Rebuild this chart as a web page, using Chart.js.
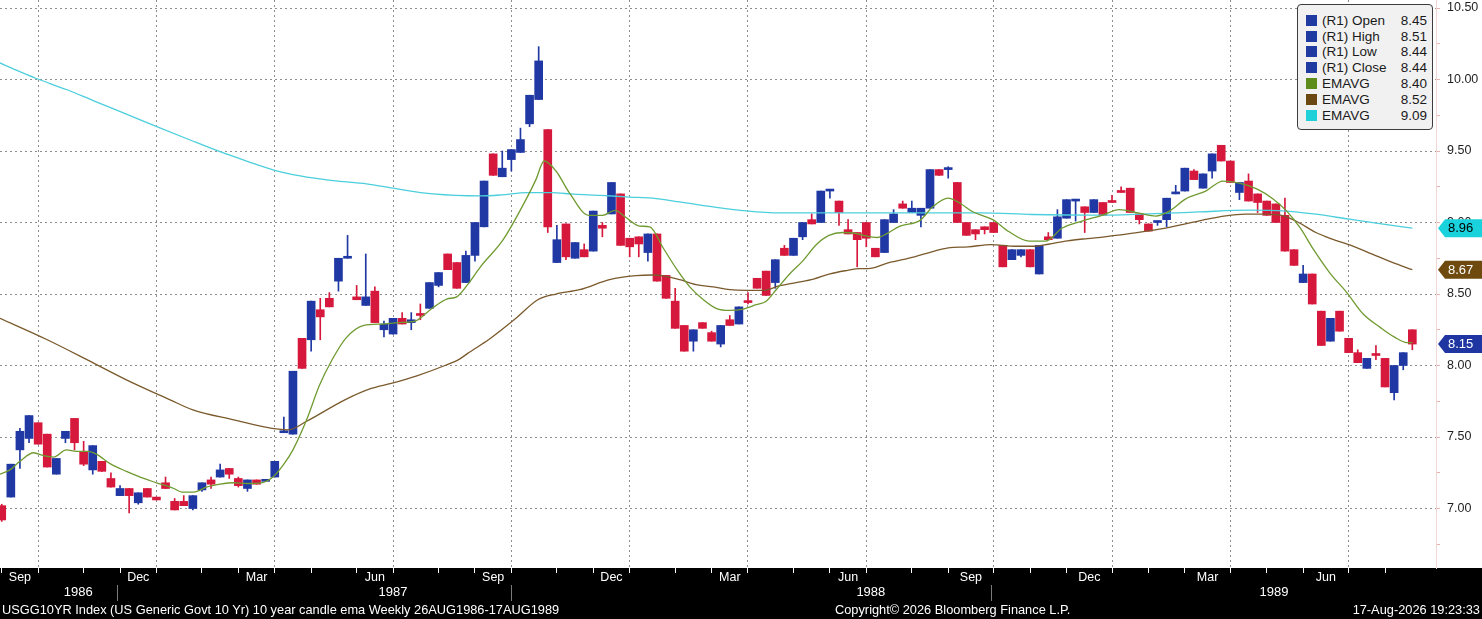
<!DOCTYPE html>
<html>
<head>
<meta charset="utf-8">
<title>USGG10YR weekly candles</title>
<script src="https://cdn.jsdelivr.net/npm/chart.js@4.4.1/dist/chart.umd.min.js"></script>
<style>
html, body { margin: 0; padding: 0; background: #fff; }
#wrap { position: relative; width: 1482px; height: 619px; overflow: hidden; font-family: "Liberation Sans", Arial, sans-serif; }
#chart { position: absolute; left: 0; top: 0; }
#legend { position: absolute; left: 1297px; top: 4px; width: 136px; height: 126px; box-sizing: border-box;
          border: 1px solid #3c3c3c; border-radius: 4px; background: #f1f1f1; font-size: 13.5px; color: #1a1a1a; }
.row { position: absolute; left: 8px; right: 5px; height: 16px; line-height: 16px; white-space: nowrap; }
.sw { position: absolute; left: 0; top: 2px; width: 11px; height: 11px; }
.lb { position: absolute; left: 16px; }
.vl { position: absolute; right: 0; }
.foot { position: absolute; top: 601px; height: 18px; line-height: 18px; font-size: 12.8px; color: #fff; white-space: nowrap; }
</style>
</head>
<body>
<div id="wrap">
  <canvas id="chart" width="1482" height="619"></canvas>
  <div id="legend"></div>
  <div class="foot" style="left:2px">USGG10YR Index (US Generic Govt 10 Yr) 10 year candle ema Weekly 26AUG1986-17AUG1989</div>
  <div class="foot" style="left:835px">Copyright© 2026 Bloomberg Finance L.P.</div>
  <div class="foot" style="right:2px">17-Aug-2026 19:23:33</div>
</div>
<script>
// weekly bars, first bar = week ending 29 Aug 1986
const firstWeek = Date.UTC(1986, 7, 29);

const opens = [7.02,7.08,7.41,7.49,7.60,7.52,7.24,7.49,7.63,7.40,7.27,7.33,7.21,7.09,7.14,7.04,7.14,7.08,7.18,7.05,
  7.05,7.00,7.13,7.20,7.22,7.28,7.21,7.14,7.20,7.19,7.22,7.53,7.52,8.19,8.18,8.39,8.47,8.59,8.75,8.48,
  8.42,8.52,8.25,8.22,8.33,8.30,8.36,8.40,8.56,8.78,8.72,8.58,8.77,8.97,9.48,9.32,9.44,9.49,9.69,9.86,
  9.65,8.72,8.99,8.75,8.81,8.80,8.98,9.06,9.20,8.89,8.90,8.79,8.92,8.63,8.45,8.28,8.17,8.30,8.23,8.15,
  8.32,8.29,8.45,8.61,8.66,8.58,8.82,8.77,8.90,9.02,9.00,9.22,9.15,8.95,8.93,9.00,8.82,8.79,9.00,9.13,
  9.07,9.05,9.10,9.37,9.37,9.28,9.00,8.95,8.97,9.00,8.84,8.74,8.77,8.81,8.64,8.90,8.89,9.03,9.15,9.11,
  9.07,9.14,9.15,9.22,9.24,9.06,8.99,9.00,9.02,9.20,9.22,9.36,9.24,9.36,9.54,9.43,9.21,9.29,9.20,9.15,
  9.13,9.05,8.81,8.58,8.64,8.38,8.17,8.38,8.19,8.09,7.98,8.08,8.05,7.81,8.00,8.25];
const highs = [7.03,7.31,7.56,7.65,7.60,7.52,7.35,7.54,7.63,7.47,7.44,7.33,7.25,7.16,7.14,7.11,7.14,7.08,7.22,7.07,
  7.09,7.09,7.18,7.22,7.31,7.28,7.22,7.20,7.20,7.20,7.33,7.64,7.96,8.19,8.45,8.47,8.51,8.75,8.91,8.56,
  8.78,8.55,8.31,8.33,8.37,8.37,8.43,8.58,8.65,8.78,8.72,8.80,9.00,9.29,9.48,9.50,9.51,9.66,9.89,10.23,
  9.65,8.98,8.99,8.86,8.85,9.08,9.00,9.28,9.20,8.89,8.90,8.92,8.92,8.63,8.54,8.28,8.25,8.30,8.24,8.28,
  8.35,8.41,8.51,8.61,8.66,8.74,8.84,8.89,9.00,9.06,9.22,9.23,9.15,9.02,8.93,9.00,8.82,9.02,9.09,9.15,
  9.15,9.10,9.37,9.37,9.39,9.28,9.00,8.95,8.97,9.00,8.84,8.81,8.81,8.81,8.84,8.93,9.09,9.16,9.16,9.11,
  9.16,9.14,9.19,9.25,9.24,9.06,8.99,9.01,9.17,9.26,9.38,9.37,9.34,9.48,9.54,9.43,9.28,9.34,9.20,9.15,
  9.13,9.17,8.81,8.70,8.64,8.38,8.33,8.38,8.19,8.11,8.05,8.14,8.05,8.00,8.09,8.25];
const lows = [6.91,7.08,7.28,7.46,7.45,7.29,7.24,7.46,7.41,7.30,7.24,7.26,7.15,7.09,6.97,7.03,7.08,7.06,7.14,6.99,
  7.02,6.99,7.12,7.14,7.22,7.21,7.15,7.12,7.17,7.19,7.22,7.53,7.52,7.98,8.10,8.18,8.41,8.52,8.75,8.46,
  8.42,8.30,8.20,8.22,8.29,8.25,8.32,8.40,8.55,8.67,8.54,8.58,8.73,8.97,9.33,9.32,9.36,9.49,9.67,9.86,
  8.93,8.72,8.74,8.75,8.76,8.80,8.90,9.06,8.84,8.76,8.76,8.73,8.59,8.47,8.26,8.10,8.10,8.26,8.17,8.13,
  8.28,8.29,8.43,8.54,8.49,8.54,8.77,8.77,8.88,8.99,9.00,9.17,8.98,8.92,8.69,8.83,8.76,8.79,9.00,9.10,
  9.07,8.97,9.10,9.33,9.31,9.00,8.91,8.88,8.92,8.93,8.69,8.74,8.76,8.69,8.64,8.88,8.89,9.03,9.01,8.93,
  9.07,9.05,9.14,9.21,9.07,8.99,8.94,8.98,8.97,9.20,9.22,9.30,9.24,9.31,9.43,9.28,9.16,9.15,9.07,9.05,
  9.00,8.80,8.70,8.58,8.43,8.14,8.17,8.24,8.09,8.02,7.98,8.04,7.85,7.76,7.97,8.11];
const closes = [6.92,7.31,7.54,7.65,7.45,7.29,7.35,7.54,7.46,7.31,7.44,7.26,7.15,7.14,7.09,7.11,7.08,7.06,7.14,6.99,
  7.02,7.09,7.18,7.17,7.27,7.24,7.16,7.20,7.17,7.20,7.33,7.54,7.96,7.98,8.45,8.34,8.41,8.75,8.76,8.46,
  8.48,8.30,8.29,8.33,8.29,8.32,8.35,8.58,8.65,8.67,8.54,8.77,9.00,9.29,9.33,9.38,9.51,9.58,9.89,10.13,
  8.97,8.88,8.76,8.86,8.76,9.08,8.96,9.28,8.84,8.83,8.85,8.92,8.59,8.47,8.26,8.10,8.25,8.26,8.17,8.28,
  8.28,8.41,8.44,8.54,8.49,8.74,8.77,8.89,9.00,8.99,9.22,9.23,9.07,8.92,8.88,8.89,8.76,9.02,9.06,9.10,
  9.10,9.10,9.37,9.33,9.38,9.00,8.91,8.92,8.95,8.93,8.69,8.81,8.81,8.69,8.84,8.88,9.04,9.16,9.16,9.07,
  9.16,9.05,9.14,9.21,9.07,9.02,8.94,9.01,9.17,9.21,9.38,9.30,9.34,9.48,9.43,9.28,9.28,9.15,9.14,9.05,
  9.00,8.80,8.70,8.64,8.43,8.14,8.33,8.24,8.09,8.02,8.05,8.07,7.85,8.00,8.09,8.15];

// moving averages: [bar position, yield]
const emaFast = [[-0.2,7.24],[0.9,7.27],[2.0,7.33],[3.5,7.39],[4.6,7.37],[5.7,7.36],[7.1,7.41],[8.2,7.40],[9.5,7.40],
  [10.4,7.38],[12.0,7.31],[13.7,7.26],[15.6,7.21],[17.0,7.18],[18.9,7.14],[19.8,7.115],[21.1,7.115],[22.5,7.15],
  [24.0,7.17],[25.5,7.18],[26.9,7.175],[28.5,7.18],[29.8,7.22],[31.0,7.31],[32.0,7.41],[33.5,7.62],[34.9,7.86],
  [36.3,8.04],[37.8,8.19],[39.8,8.28],[41.8,8.29],[43.6,8.30],[45.4,8.31],[47.3,8.40],[48.9,8.465],[50.0,8.48],
  [51.3,8.575],[52.6,8.69],[55.1,8.88],[57.6,9.16],[58.7,9.30],[59.6,9.43],[60.9,9.36],[62.4,9.205],[64.5,9.05],
  [66.0,9.05],[67.4,9.085],[68.5,9.04],[70.1,8.975],[71.2,8.97],[72.7,8.82],[74.2,8.67],[75.6,8.55],[77.1,8.46],
  [78.5,8.40],[80.0,8.385],[81.5,8.395],[82.9,8.425],[84.0,8.45],[85.1,8.53],[86.5,8.635],[88.0,8.73],[89.5,8.845],
  [90.9,8.91],[92.4,8.93],[93.8,8.925],[94.7,8.91],[96.2,8.895],[97.2,8.92],[98.7,8.975],[100.9,9.015],[102.3,9.11],
  [104.0,9.17],[105.3,9.135],[106.7,9.075],[108.9,9.02],[110.7,8.935],[112.9,8.87],[114.7,8.87],[116.5,8.96],
  [118.7,9.01],[120.9,9.05],[122.8,9.09],[125.0,9.065],[126.8,9.045],[128.3,9.08],[130.1,9.165],[132.3,9.22],
  [134.2,9.29],[136.0,9.275],[137.9,9.235],[139.7,9.165],[141.2,9.08],[142.7,8.96],[144.1,8.815],[145.9,8.65],
  [147.8,8.51],[149.6,8.36],[151.5,8.265],[153.0,8.20],[154.4,8.16],[155.0,8.16]];
const emaSlow = [[-0.2,8.33],[5.0,8.18],[10.0,8.02],[13.7,7.90],[18.5,7.76],[21.0,7.69],[25.5,7.62],[29.7,7.56],
  [31.5,7.55],[33.5,7.61],[37.7,7.76],[40.6,7.84],[42.8,7.875],[45.7,7.93],[48.7,8.00],[50.3,8.045],[51.2,8.085],
  [53.6,8.185],[56.5,8.33],[58.9,8.46],[60.9,8.50],[63.5,8.53],[66.8,8.60],[69.7,8.628],[71.5,8.633],[72.7,8.627],
  [74.5,8.60],[76.3,8.565],[78.2,8.55],[80.0,8.53],[81.8,8.525],[83.6,8.525],[85.5,8.558],[87.3,8.58],[89.2,8.604],
  [91.0,8.641],[92.8,8.664],[94.3,8.678],[95.2,8.678],[97.4,8.718],[100.3,8.76],[102.2,8.795],[104.0,8.823],
  [106.2,8.83],[108.7,8.846],[111.3,8.834],[113.5,8.834],[115.0,8.848],[117.1,8.872],[119.3,8.888],[121.2,8.90],
  [124.3,8.926],[127.2,8.953],[129.4,8.981],[131.6,9.012],[134.5,9.047],[136.7,9.058],[138.9,9.058],[141.1,9.042],
  [142.5,9.00],[144.4,8.93],[146.2,8.884],[148.4,8.837],[150.6,8.779],[152.8,8.721],[155.0,8.67]];
const emaLong = [[-0.2,10.116],[1.6,10.065],[3.8,10.007],[7.1,9.93],[10.1,9.851],[13.7,9.758],[16.9,9.674],
  [20.7,9.577],[24.0,9.495],[26.9,9.43],[29.9,9.367],[32.8,9.326],[36.4,9.293],[40.1,9.27],[43.0,9.24],[47.4,9.20],
  [52.6,9.186],[54.9,9.193],[57.7,9.209],[60.3,9.209],[62.9,9.198],[65.8,9.19],[69.0,9.178],[71.5,9.17],
  [74.5,9.144],[78.2,9.109],[81.8,9.081],[85.5,9.067],[89.2,9.067],[94.3,9.067],[100.3,9.068],[107.7,9.068],
  [113.2,9.056],[121.2,9.051],[128.0,9.065],[131.6,9.074],[137.1,9.086],[140.8,9.081],[144.4,9.058],
  [148.1,9.023],[151.8,8.988],[155.0,8.96]];

const priceTicks = [6.75,7.00,7.25,7.50,7.75,8.00,8.25,8.50,8.75,9.00,9.25,9.50,9.75,10.00,10.25,10.50];
const monthNames = ['Jan','Feb','Mar','Apr','May','Jun','Jul','Aug','Sep','Oct','Nov','Dec'];
const shownMonths = [2, 5, 8, 11];

const legendLabels = ['(R1) Open','(R1) High','(R1) Low','(R1) Close','EMAVG','EMAVG','EMAVG'];
const legendValues = ['8.45','8.51','8.44','8.44','8.40','8.52','9.09'];

const upColor = '#2038a3';
const downColor = '#d5183c';
const fastColor = '#6f9a30';
const slowColor = '#7a5a2c';
const longColor = '#4ccfdc';
const legendColors = ['#1f3aa0','#1f3aa0','#1f3aa0','#1f3aa0','#5e8c1a','#6b4812','#1fd0d8'];

const xMin = -0.19, xMax = 157.6;
const yMin = 6.584, yMax = 10.556;
const dotted = '#8e8e8e';
const clear = 'rgba(0,0,0,0)';

Chart.defaults.font.family = '"Liberation Sans", Arial, sans-serif';

function barDate(i)
{
    return new Date(firstWeek + i * 7 * 86400000);
}

function BuildLegend()
{
    const box = document.getElementById('legend');
    for (let k = 0; k < legendLabels.length; k++)
    {
        const row = document.createElement('div');
        row.className = 'row';
        row.style.top = (7.7 + 15.85 * k) + 'px';
        row.innerHTML = '<span class="sw" style="background:' + legendColors[k] + '"></span>' +
            '<span class="lb">' + legendLabels[k] + '</span><span class="vl">' + legendValues[k] + '</span>';
        box.appendChild(row);
    }
}

function BuildTimeTicks()
{
    // last bar of every month carries a tick, quarter ends carry a grid line
    const ends = [];
    for (let i = 0; i < closes.length; i++)
    {
        if (barDate(i).getUTCMonth() !== barDate(i + 1).getUTCMonth()) ends.push(i);
    }
    const monthTicks = [];
    for (let k = 0; k < ends.length; k++)
    {
        const m = barDate(ends[k]).getUTCMonth();
        monthTicks.push({ value: ends[k], label: '', end: true, quarter: shownMonths.includes(m) });
        if (k > 0 && shownMonths.includes(m))
            monthTicks.push({ value: (ends[k - 1] + ends[k]) / 2, label: monthNames[m], end: false, quarter: false });
    }
    monthTicks.sort((a, b) => a.value - b.value);

    const yearEnds = ends.filter(i => barDate(i).getUTCMonth() === 11);
    const bounds = [xMin].concat(yearEnds, [xMax]);
    const yearTicks = [];
    for (let k = 0; k < bounds.length - 1; k++)
    {
        const year = barDate(Math.max(0, Math.ceil(bounds[k] + 0.5))).getUTCFullYear();
        yearTicks.push({ value: (bounds[k] + bounds[k + 1]) / 2, label: String(year), end: false });
        if (k < yearEnds.length) yearTicks.push({ value: yearEnds[k], label: '', end: true });
    }
    return { monthTicks, yearTicks };
}

const tagPlugin = {
    id: 'tags',
    beforeDraw(chart)
    {
        const c = chart.ctx;
        c.save();
        c.fillStyle = '#fff';
        c.fillRect(0, 0, chart.width, chart.height);
        c.fillStyle = '#000';
        c.fillRect(0, chart.chartArea.bottom, chart.width, chart.height - chart.chartArea.bottom);
        c.restore();
    },
    afterDraw(chart)
    {
        const c = chart.ctx;
        const y = chart.scales.y;
        const left = chart.chartArea.right + 2;
        const tags = [
            { v: emaLong[emaLong.length - 1][1], bg: '#19d2dc', fg: '#000' },
            { v: emaSlow[emaSlow.length - 1][1], bg: '#6e4a0e', fg: '#fff' },
            { v: closes[closes.length - 1], bg: '#1f36a2', fg: '#fff' }
        ];
        c.save();
        c.font = '13px "Liberation Sans", Arial, sans-serif';
        c.textBaseline = 'middle';
        tags.forEach(t => {
            const py = y.getPixelForValue(t.v);
            c.beginPath();
            c.moveTo(left, py);
            c.lineTo(left + 7, py - 9);
            c.lineTo(chart.width, py - 9);
            c.lineTo(chart.width, py + 9);
            c.lineTo(left + 7, py + 9);
            c.closePath();
            c.fillStyle = t.bg;
            c.fill();
            c.fillStyle = t.fg;
            c.fillText(t.v.toFixed(2), left + 10, py + 0.5);
        });
        c.restore();
    }
};

function Init()
{
    const ctx = document.getElementById('chart').getContext('2d');
    const { monthTicks, yearTicks } = BuildTimeTicks();
    const colors = opens.map((o, i) => closes[i] >= o ? upColor : downColor);
    const isMajor = v => Math.abs(v * 2 - Math.round(v * 2)) < 1e-6;

    const data = {
        datasets: [
            {
                type: 'line', label: 'EMAVG fast', data: emaFast.map(p => ({ x: p[0], y: p[1] })),
                borderColor: fastColor, borderWidth: 1.3, pointRadius: 0, cubicInterpolationMode: 'monotone', order: 1
            },
            {
                type: 'line', label: 'EMAVG slow', data: emaSlow.map(p => ({ x: p[0], y: p[1] })),
                borderColor: slowColor, borderWidth: 1.3, pointRadius: 0, cubicInterpolationMode: 'monotone', order: 1
            },
            {
                type: 'line', label: 'EMAVG long', data: emaLong.map(p => ({ x: p[0], y: p[1] })),
                borderColor: longColor, borderWidth: 1.3, pointRadius: 0, cubicInterpolationMode: 'monotone', order: 1
            },
            {
                type: 'bar', label: 'body', data: opens.map((o, i) => ({ x: i, y: [o, closes[i]] })),
                backgroundColor: colors, barThickness: 8, minBarLength: 2, grouped: false, borderWidth: 0, order: 2
            },
            {
                type: 'bar', label: 'wick', data: highs.map((h, i) => ({ x: i, y: [lows[i], h] })),
                backgroundColor: colors, barThickness: 1, grouped: false, borderWidth: 0, order: 3
            }
        ]
    };

    const config = {
        type: 'bar',
        data: data,
        plugins: [tagPlugin],
        options: {
            responsive: false,
            animation: false,
            devicePixelRatio: 1,
            layout: { padding: { left: 0, right: 0, top: 0, bottom: 18 } },
            plugins: { legend: { display: false }, tooltip: { enabled: false } },
            scales: {
                x: {
                    type: 'linear', position: 'bottom', min: xMin, max: xMax, offset: false, weight: 0,
                    afterBuildTicks: s => { s.ticks = monthTicks.map(t => ({ value: t.value })); },
                    afterFit: s => { s.height = 17; s.paddingLeft = 0; s.paddingRight = 0; },
                    ticks: {
                        autoSkip: false, maxRotation: 0, minRotation: 0, padding: -2.5, color: '#fff',
                        font: { size: 12.5 },
                        callback: (v, i) => monthTicks[i] ? monthTicks[i].label : ''
                    },
                    grid: {
                        offset: false, tickLength: 5, lineWidth: 1,
                        color: c => (monthTicks[c.index] && monthTicks[c.index].quarter) ? dotted : clear,
                        tickColor: c => (monthTicks[c.index] && monthTicks[c.index].end) ? '#fff' : clear
                    },
                    border: { display: false, dash: [2, 3] }
                },
                xy: {
                    type: 'linear', position: 'bottom', min: xMin, max: xMax, offset: false, weight: 1,
                    afterBuildTicks: s => { s.ticks = yearTicks.map(t => ({ value: t.value })); },
                    afterFit: s => { s.height = 16; s.paddingLeft = 0; s.paddingRight = 0; },
                    ticks: {
                        autoSkip: false, maxRotation: 0, minRotation: 0, padding: -16, color: '#fff',
                        font: { size: 13 },
                        callback: (v, i) => yearTicks[i] ? yearTicks[i].label : ''
                    },
                    grid: {
                        drawOnChartArea: false, tickLength: 16, lineWidth: 1,
                        tickColor: c => (yearTicks[c.index] && yearTicks[c.index].end) ? '#7a7a7a' : clear
                    },
                    border: { display: false }
                },
                y: {
                    type: 'linear', position: 'right', min: yMin, max: yMax, beginAtZero: false,
                    afterBuildTicks: s => { s.ticks = priceTicks.map(v => ({ value: v })); },
                    afterFit: s => { s.width = 46; s.paddingTop = 0; s.paddingBottom = 0; },
                    ticks: {
                        autoSkip: false, padding: 7, color: '#1e1e1e', font: { size: 12.5 },
                        callback: v => isMajor(v) ? v.toFixed(2) : ''
                    },
                    grid: {
                        tickLength: 4, lineWidth: 1,
                        color: c => (c.tick && isMajor(c.tick.value)) ? dotted : clear,
                        tickColor: '#ebb3b3'
                    },
                    border: { display: true, color: '#f1d6d6', dash: [2, 3] }
                }
            }
        }
    };
    new Chart(ctx, config);
}

BuildLegend();
Init();
</script>
</body>
</html>
